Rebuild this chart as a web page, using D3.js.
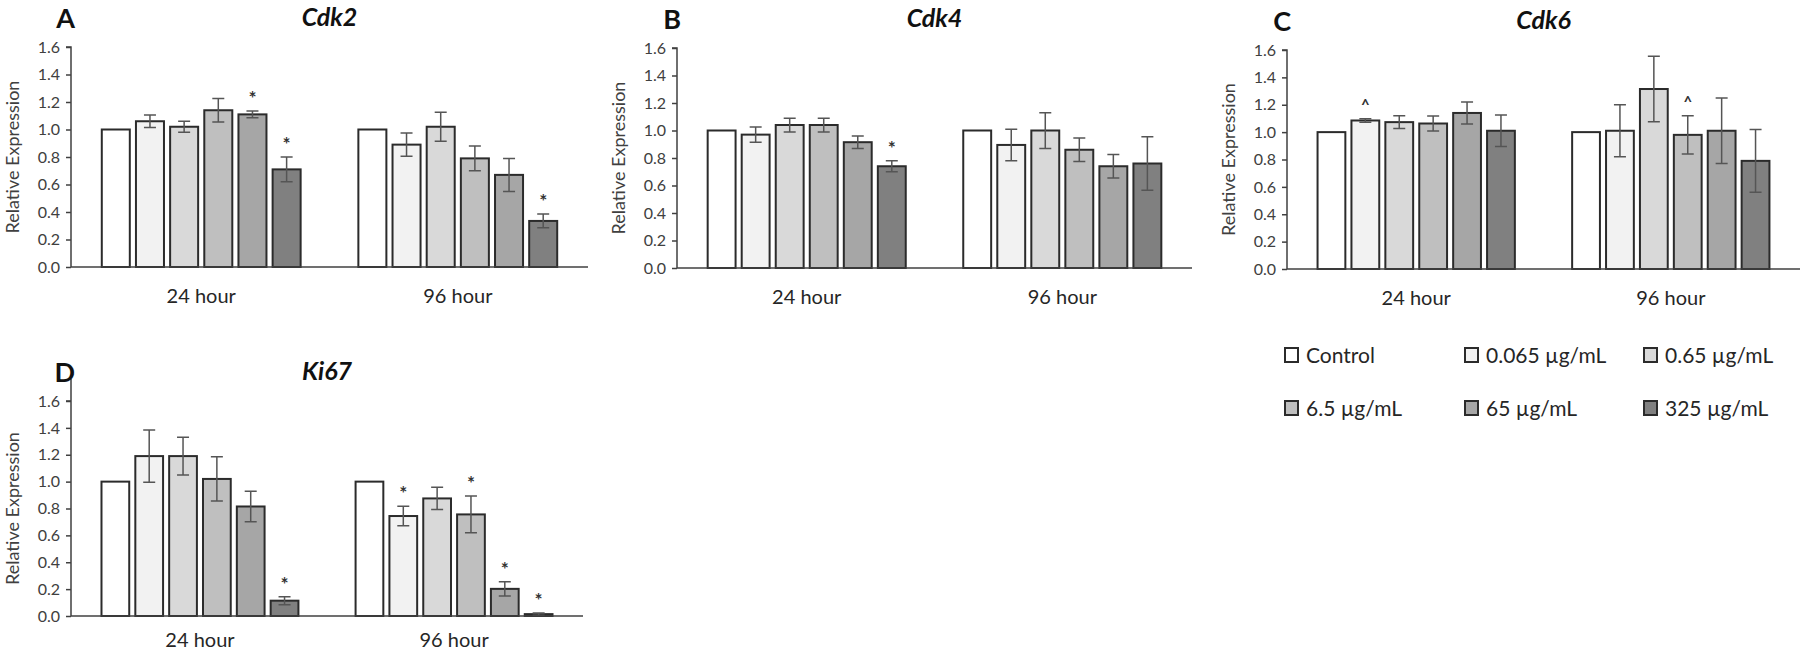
<!DOCTYPE html>
<html><head><meta charset="utf-8">
<script src="https://cdn.jsdelivr.net/npm/d3@7"></script>
<style>
body{margin:0;background:#fff}
svg{display:block}
text{font-family:Lato,"Open Sans",sans-serif}
</style>
</head><body>
<svg id="chart" width="1800" height="654"></svg>
<script>
// ---------- data ----------
const categories = ["24 hour", "96 hour"];
const series = ["Control", "0.065 µg/mL", "0.65 µg/mL", "6.5 µg/mL", "65 µg/mL", "325 µg/mL"];
const seriesColors = ["#ffffff", "#f2f2f2", "#d9d9d9", "#bfbfbf", "#a6a6a6", "#808080"];
const yTicks = [0, 0.2, 0.4, 0.6, 0.8, 1.0, 1.2, 1.4, 1.6];
const genes = ["Cdk2", "Cdk4", "Cdk6", "Ki67"];
const panelLetters = ["A", "B", "C", "D"];

const cdk2Mean24 = [1.00, 1.06, 1.02, 1.14, 1.11, 0.71];
const cdk2Err24  = [0.00, 0.045, 0.04, 0.085, 0.025, 0.09];
const cdk2Mark24 = ["", "", "", "", "*", "*"];
const cdk2Mean96 = [1.00, 0.89, 1.02, 0.79, 0.67, 0.335];
const cdk2Err96  = [0.00, 0.085, 0.105, 0.09, 0.12, 0.05];
const cdk2Mark96 = ["", "", "", "", "", "*"];

const cdk4Mean24 = [1.00, 0.97, 1.04, 1.04, 0.915, 0.74];
const cdk4Err24  = [0.00, 0.055, 0.05, 0.05, 0.045, 0.04];
const cdk4Mark24 = ["", "", "", "", "", "*"];
const cdk4Mean96 = [1.00, 0.895, 1.00, 0.86, 0.74, 0.76];
const cdk4Err96  = [0.00, 0.115, 0.13, 0.085, 0.085, 0.195];
const cdk4Mark96 = ["", "", "", "", "", ""];

const cdk6Mean24 = [1.00, 1.085, 1.073, 1.063, 1.14, 1.01];
const cdk6Err24  = [0.00, 0.012, 0.047, 0.055, 0.08, 0.115];
const cdk6Mark24 = ["", "^", "", "", "", ""];
const cdk6Mean96 = [1.00, 1.01, 1.315, 0.98, 1.01, 0.79];
const cdk6Err96  = [0.00, 0.19, 0.24, 0.14, 0.24, 0.23];
const cdk6Mark96 = ["", "", "", "^", "", ""];

const ki67Mean24 = [1.00, 1.19, 1.19, 1.02, 0.815, 0.114];
const ki67Err24  = [0.00, 0.195, 0.14, 0.165, 0.113, 0.03];
const ki67Mark24 = ["", "", "", "", "", "*"];
const ki67Mean96 = [1.00, 0.744, 0.875, 0.756, 0.202, 0.014];
const ki67Err96  = [0.00, 0.072, 0.083, 0.137, 0.053, 0.008];
const ki67Mark96 = ["", "*", "", "*", "*", "*"];

const geneData = [
  {mean: [cdk2Mean24, cdk2Mean96], err: [cdk2Err24, cdk2Err96], mark: [cdk2Mark24, cdk2Mark96]},
  {mean: [cdk4Mean24, cdk4Mean96], err: [cdk4Err24, cdk4Err96], mark: [cdk4Mark24, cdk4Mark96]},
  {mean: [cdk6Mean24, cdk6Mean96], err: [cdk6Err24, cdk6Err96], mark: [cdk6Mark24, cdk6Mark96]},
  {mean: [ki67Mean24, ki67Mean96], err: [ki67Err24, ki67Err96], mark: [ki67Mark24, ki67Mark96]}
];

// ---------- layout ----------
const panels = [
  {x0: 71,   x1: 588,  yTop: 47,  yBot: 267, labelOff: 36},
  {x0: 677,  x1: 1192, yTop: 48,  yBot: 268, labelOff: 36},
  {x0: 1287, x1: 1800, yTop: 50,  yBot: 269, labelOff: 36},
  {x0: 71,   x1: 583,  yTop: 401, yBot: 616, labelOff: 31}
];

const svg = d3.select("#chart");
const axisColor = "#404040";
const textColor = "#404040";

panels.forEach((p, gi) => {
  const g = svg.append("g");
  const d = geneData[gi];
  const x = d3.scaleBand().domain(categories).range([p.x0, p.x1]).paddingInner(0.225).paddingOuter(0.12);
  const xs = d3.scaleBand().domain(series).range([0, x.bandwidth()]).paddingInner(0.18).paddingOuter(0);
  const y = d3.scaleLinear().domain([0, 1.6]).range([p.yBot, p.yTop]);

  // y axis
  const ya = g.append("g").attr("transform", `translate(${p.x0},0)`)
    .call(d3.axisLeft(y).tickValues(yTicks).tickFormat(d3.format(".1f")).tickSize(5).tickPadding(6));
  ya.select(".domain").attr("stroke", axisColor).attr("stroke-width", 1.5).attr("d", `M-5,${y(1.6)}H0V${p.yBot}`);
  if (gi === 3) ya.select(".domain").attr("d", `M-5,${y(1.6)}H0V${p.yBot}M0,${y(1.6)}V${y(1.6) - 22}`);
  ya.selectAll(".tick line").attr("stroke", axisColor).attr("stroke-width", 1.5);
  ya.selectAll(".tick text").attr("fill", textColor).style("font-size", "16px").style("font-family", "Lato");

  // bars
  categories.forEach((c, ci) => {
    const gg = g.append("g");
    series.forEach((s, si) => {
      const v = d.mean[ci][si], e = d.err[ci][si], m = d.mark[ci][si];
      const bx = x(c) + xs(s);
      const bw = xs.bandwidth();
      gg.append("rect")
        .attr("x", bx).attr("y", y(v)).attr("width", bw).attr("height", y(0) - y(v))
        .attr("fill", seriesColors[si]).attr("stroke", "#2b2b2b").attr("stroke-width", 2);
      const cx = bx + bw / 2;
      if (e > 0) {
        gg.append("path")
          .attr("d", `M${cx},${y(v + e)}V${y(v - e)}M${cx - 6},${y(v + e)}H${cx + 6}M${cx - 6},${y(v - e)}H${cx + 6}`)
          .attr("stroke", "#555").attr("stroke-width", 1.5).attr("fill", "none");
      }
      if (m) {
        const top = y(v + e);
        gg.append("text")
          .attr("x", cx).attr("y", m === "*" ? top - 6 : top - 9)
          .attr("text-anchor", "middle")
          .attr("fill", "#333")
          .style("font-size", m === "*" ? "19px" : "15px")
          .style("font-weight", "bold")
          .text(m);
      }
    });
  });

  // x axis line
  g.append("line").attr("x1", p.x0).attr("x2", p.x1).attr("y1", p.yBot).attr("y2", p.yBot)
    .attr("stroke", axisColor).attr("stroke-width", 1.5);

  // category labels
  categories.forEach(c => {
    g.append("text").attr("x", x(c) + x.bandwidth() / 2).attr("y", p.yBot + p.labelOff)
      .attr("text-anchor", "middle").attr("fill", "#262626").style("font-size", "20px").text(c);
  });

  // y title
  g.append("text")
    .attr("transform", `translate(${p.x0 - 52},${(p.yTop + p.yBot) / 2}) rotate(-90)`)
    .attr("text-anchor", "middle").attr("fill", textColor).style("font-size", "18px")
    .text("Relative Expression");

  // gene title
  g.append("text").attr("x", (p.x0 + Math.min(p.x1, p.x0 + 517)) / 2).attr("y", p.yTop - 21)
    .attr("text-anchor", "middle").attr("fill", "#111")
    .style("font-size", "25px").style("font-weight", "bold").style("font-style", "italic")
    .text(genes[gi]);

  // panel letter
  g.append("text").attr("x", p.x0 + 4).attr("y", p.yTop - 19)
    .attr("text-anchor", "end").attr("fill", "#111")
    .style("font-size", "27px").style("font-weight", "bold")
    .text(panelLetters[gi]);
});

// ---------- legend ----------
const legendCols = [1285, 1465, 1644];
const legendRows = [355, 408];
const lg = svg.append("g");
series.forEach((s, i) => {
  const lx = legendCols[i % 3], ly = legendRows[Math.floor(i / 3)];
  lg.append("rect").attr("x", lx).attr("y", ly - 7).attr("width", 13).attr("height", 14)
    .attr("fill", seriesColors[i]).attr("stroke", "#2b2b2b").attr("stroke-width", 2);
  lg.append("text").attr("x", lx + 21).attr("y", ly + 7.5).attr("fill", "#262626")
    .style("font-size", "21px").text(s);
});
</script>
</body></html>
